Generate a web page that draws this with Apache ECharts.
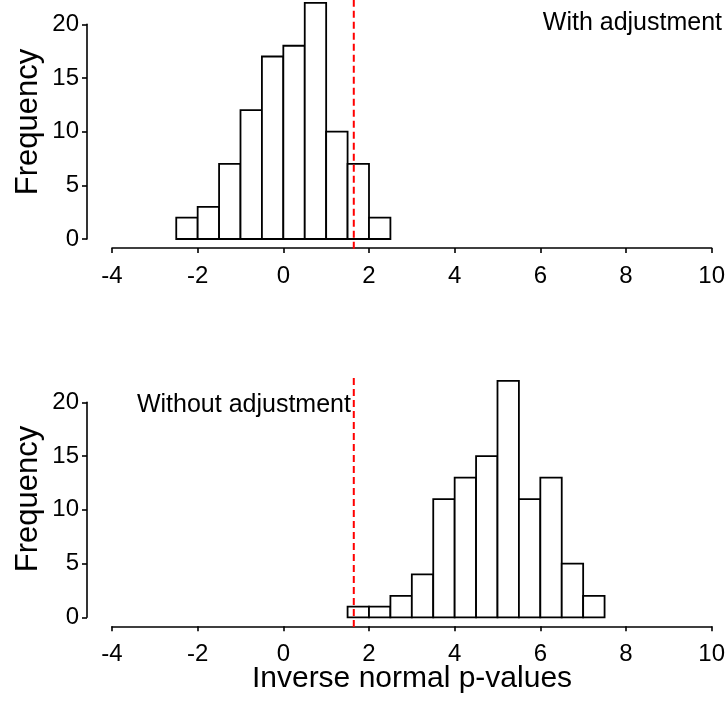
<!DOCTYPE html>
<html>
<head>
<meta charset="utf-8">
<script src="https://cdn.jsdelivr.net/npm/echarts@6/dist/echarts.min.js"></script>
<style>
html,body{margin:0;padding:0;background:#fff;}
#main{width:728px;height:708px;}
</style>
</head>
<body>
<div id="main"></div>
<script>
// ---- data ----
var binWidth = 0.5;
var topBinStarts = [-2.5, -2, -1.5, -1, -0.5, 0, 0.5, 1, 1.5, 2];
var topCounts    = [2, 3, 7, 12, 17, 18, 22, 10, 7, 2];
var bottomBinStarts = [1.5, 2, 2.5, 3, 3.5, 4, 4.5, 5, 5.5, 6, 6.5, 7];
var bottomCounts    = [1, 1, 2, 4, 11, 13, 15, 22, 11, 13, 5, 2];
var criticalValue = 1.645;
var xTicks = [-4, -2, 0, 2, 4, 6, 8, 10];
var yTicks = [0, 5, 10, 15, 20];
var topLabel = "With adjustment";
var bottomLabel = "Without adjustment";
var topLabelPos = [8.15, 20.1];
var bottomLabelPos = [-0.92, 19.7];
var refLineRange = [-0.9, 22.26];

var FONT = "Liberation Sans, Arial, Helvetica, sans-serif";

function histData(starts, counts) {
  return starts.map(function (s, i) { return [s, s + binWidth, counts[i]]; });
}

function renderBar(params, api) {
  var p0 = api.coord([api.value(0), 0]);
  var p1 = api.coord([api.value(1), api.value(2)]);
  return {
    type: 'rect',
    shape: { x: p0[0], y: p1[1], width: p1[0] - p0[0], height: p0[1] - p1[1] },
    style: { fill: '#ffffff', stroke: '#000000', lineWidth: 1.8 }
  };
}

function makeXAxis(gi) {
  return {
    type: 'value', gridIndex: gi, min: -4, max: 10, interval: 2, offset: 9,
    axisLine: { show: true, onZero: false, lineStyle: { color: '#000', width: 1.6 } },
    axisTick: { show: true, length: 5, lineStyle: { color: '#000', width: 1.6 } },
    axisLabel: { color: '#000', fontSize: 24, fontFamily: FONT, margin: 16,
      formatter: function (v) { return xTicks.indexOf(v) >= 0 ? String(v) : ''; } },
    splitLine: { show: false }
  };
}
function makeYAxis(gi) {
  return {
    type: 'value', gridIndex: gi, min: 0, max: 20, interval: 5, offset: 25,
    axisLine: { show: true, onZero: false, lineStyle: { color: '#000', width: 1.6 } },
    axisTick: { show: true, length: 5, lineStyle: { color: '#000', width: 1.6 } },
    axisLabel: { color: '#000', fontSize: 24, fontFamily: FONT, margin: 8,
      formatter: function (v) { return yTicks.indexOf(v) >= 0 ? String(v) : ''; } },
    splitLine: { show: false }
  };
}

function refLine(gi) {
  return {
    type: 'line', xAxisIndex: gi, yAxisIndex: gi, clip: false, silent: true,
    symbol: 'none', z: 5,
    data: [[criticalValue, refLineRange[0]], [criticalValue, refLineRange[1]]],
    lineStyle: { color: '#ff0000', width: 2, type: [7, 4] }
  };
}
function labelSeries(gi, pos, txt) {
  return {
    type: 'scatter', xAxisIndex: gi, yAxisIndex: gi, silent: true, clip: false,
    symbolSize: 0, itemStyle: { color: '#000', opacity: 1 },
    data: [pos],
    label: { show: true, position: 'inside', formatter: txt, color: '#000',
      textBorderWidth: 0, opacity: 1,
      fontSize: 25, fontFamily: FONT }
  };
}

var chart = echarts.init(document.getElementById('main'), null, { renderer: 'canvas' });
chart.setOption({
  backgroundColor: '#ffffff',
  animation: false,
  grid: [
    { left: 112, width: 601, top: 24.3, height: 214.7 },
    { left: 112, width: 601, top: 402.3, height: 215 }
  ],
  xAxis: [makeXAxis(0), makeXAxis(1)],
  yAxis: [makeYAxis(0), makeYAxis(1)],
  graphic: [
    { type: 'text', x: 28, y: 122, rotation: Math.PI / 2, silent: true,
      style: { text: 'Frequency', align: 'center', verticalAlign: 'middle', fill: '#000', fontSize: 31, fontFamily: FONT } },
    { type: 'text', x: 28, y: 499, rotation: Math.PI / 2, silent: true,
      style: { text: 'Frequency', align: 'center', verticalAlign: 'middle', fill: '#000', fontSize: 31, fontFamily: FONT } },
    { type: 'text', x: 412, y: 679, silent: true,
      style: { text: 'Inverse normal p-values', align: 'center', verticalAlign: 'middle', fill: '#000', fontSize: 30, fontFamily: FONT } }
  ],
  series: [
    { type: 'custom', xAxisIndex: 0, yAxisIndex: 0, clip: false, renderItem: renderBar,
      encode: { x: [0, 1], y: 2 }, data: histData(topBinStarts, topCounts) },
    { type: 'custom', xAxisIndex: 1, yAxisIndex: 1, clip: false, renderItem: renderBar,
      encode: { x: [0, 1], y: 2 }, data: histData(bottomBinStarts, bottomCounts) },
    refLine(0),
    refLine(1),
    labelSeries(0, topLabelPos, topLabel),
    labelSeries(1, bottomLabelPos, bottomLabel)
  ]
});
</script>
</body>
</html>
